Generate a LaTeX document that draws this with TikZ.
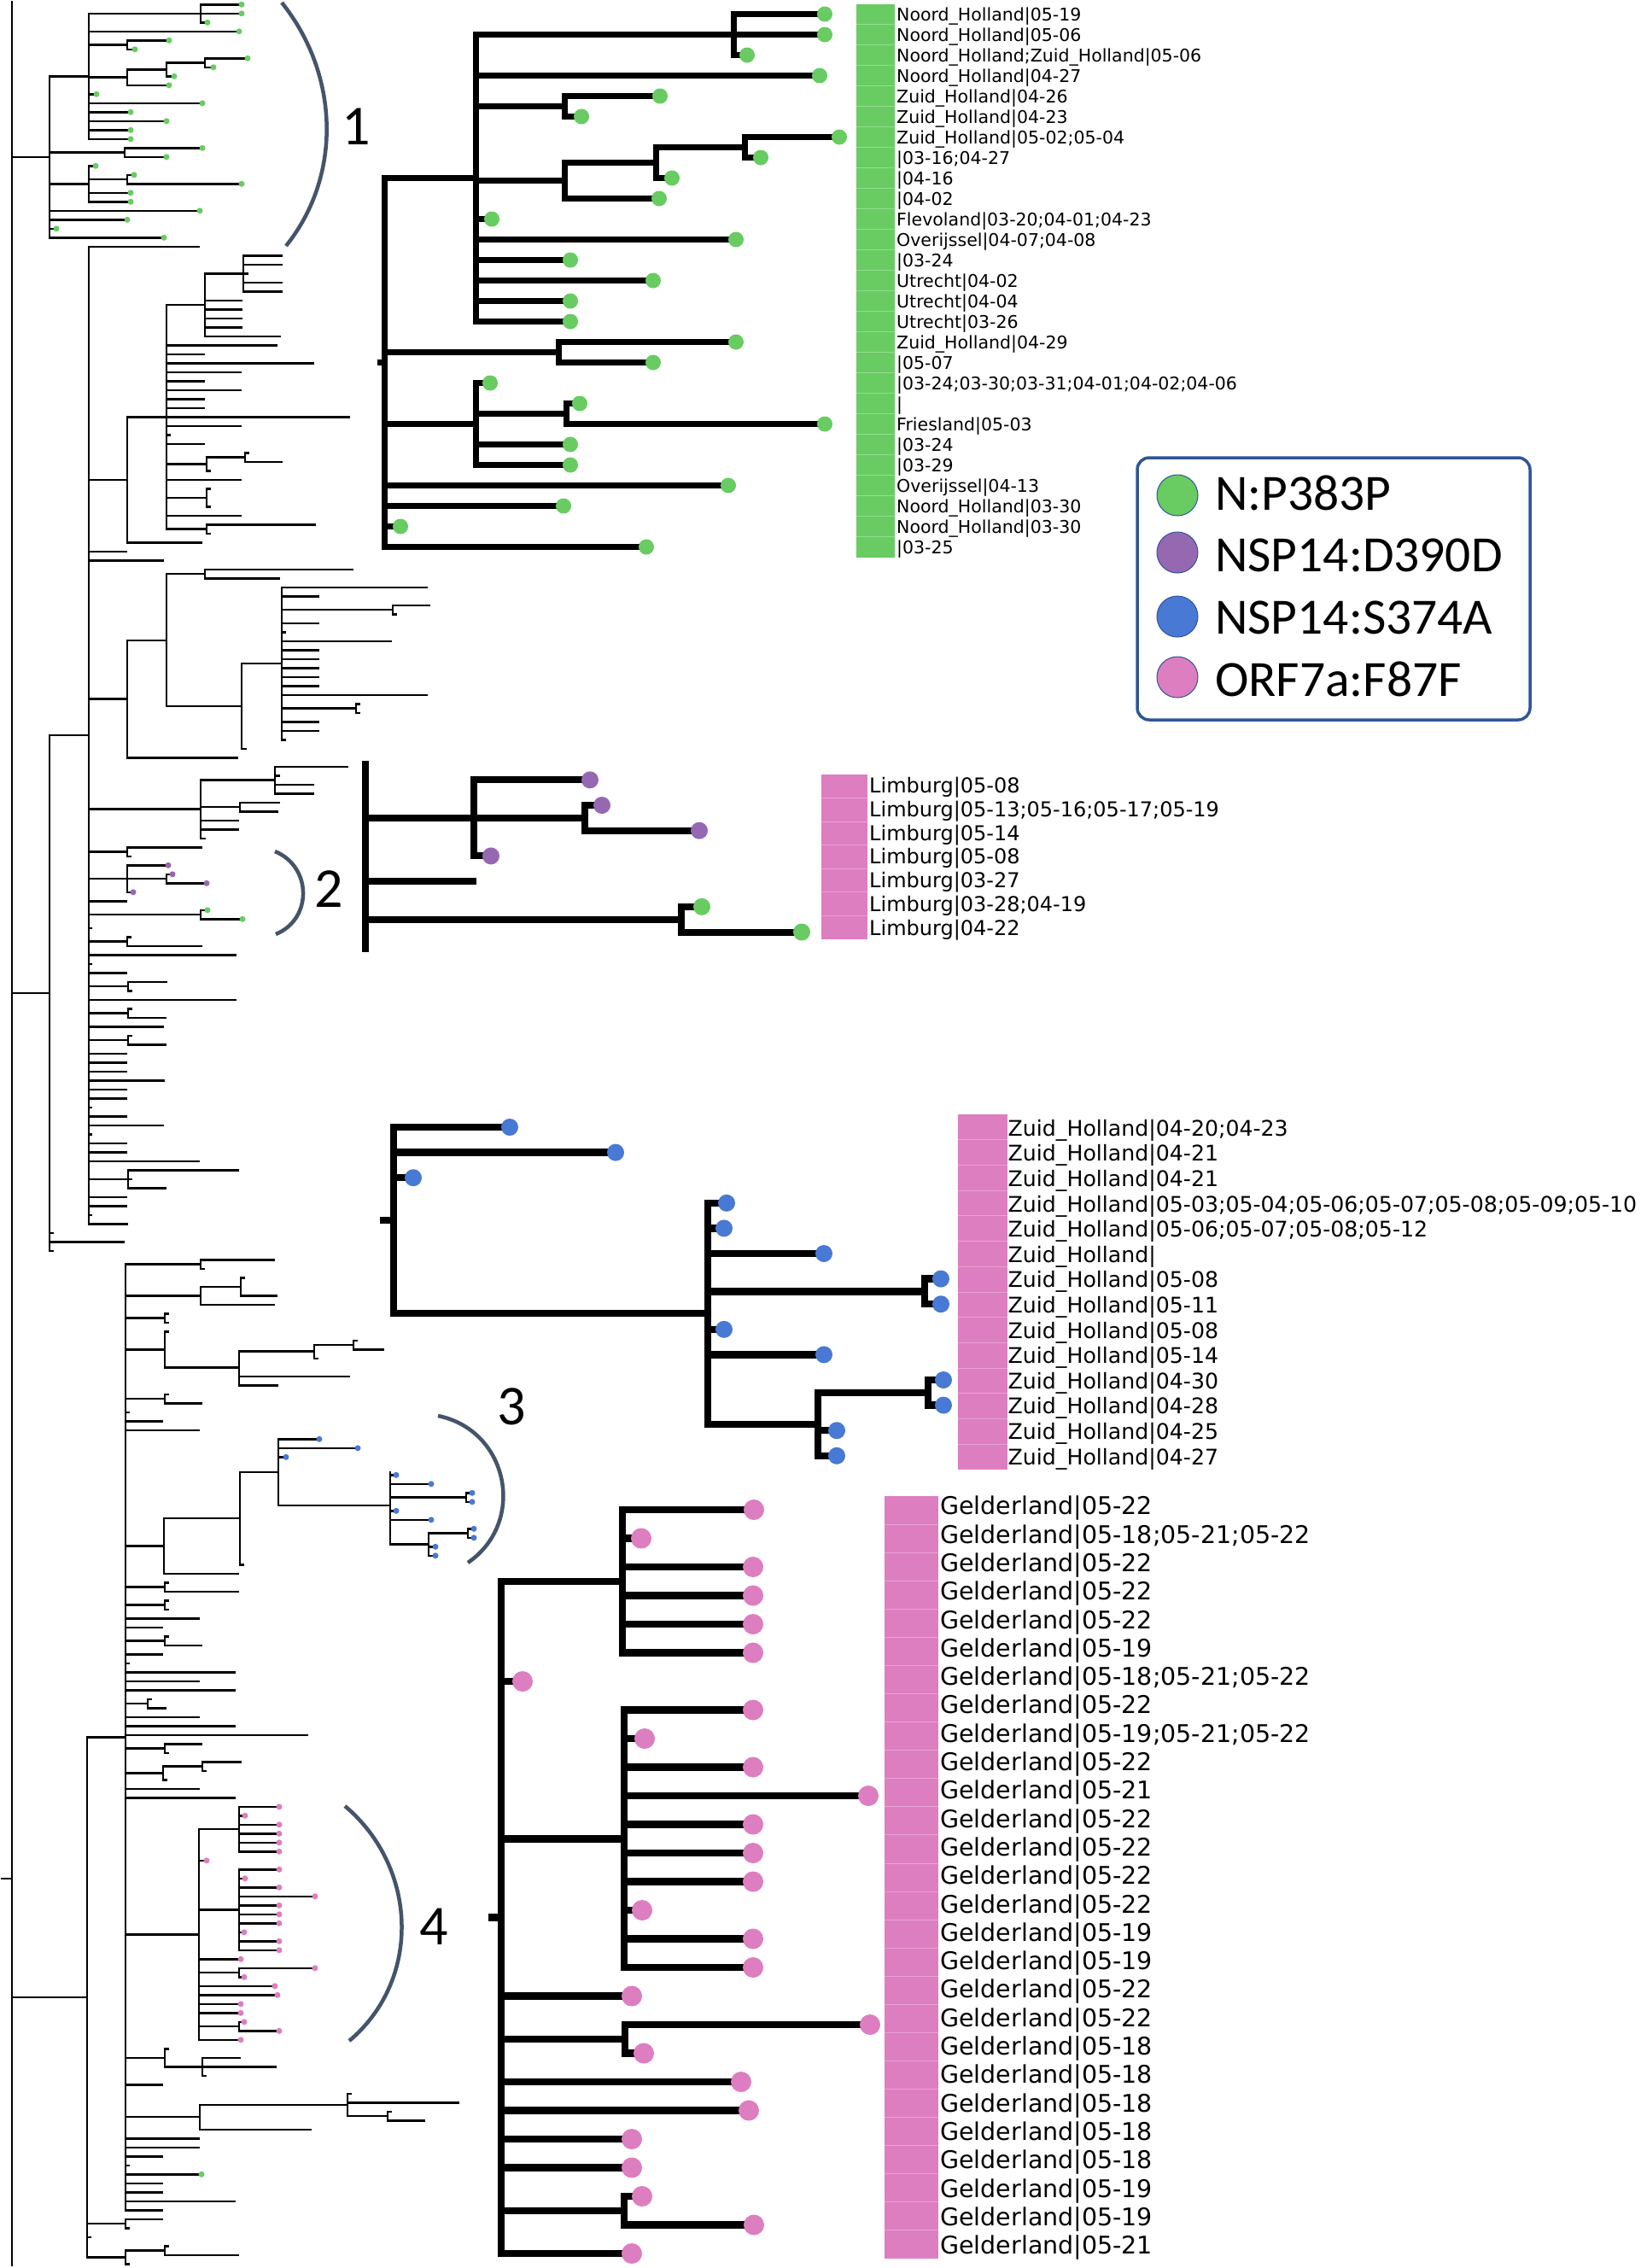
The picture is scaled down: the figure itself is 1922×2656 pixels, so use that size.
\documentclass[tikz,border=0pt]{standalone}
\usepackage{fontspec}
\newfontfamily\labf{DejaVu Sans}
\newfontfamily\calf{Carlito}
\definecolor{gdot}{RGB}{104,204,98}
\definecolor{pdot}{RGB}{150,104,178}
\definecolor{bdot}{RGB}{72,121,212}
\definecolor{kdot}{RGB}{221,126,192}
\definecolor{arcc}{RGB}{68,84,106}
\definecolor{legb}{RGB}{47,85,151}
\newcommand\HL[4]{\foreach \xa/\xb/\rr in {#4}{\draw[#3] (\xa,{#1*\rr+#2}) -- (\xb,{#1*\rr+#2});}}
\newcommand\VL[4]{\foreach \xx/\pp/\qq in {#4}{\draw[#3] (\xx,{#1*\pp+#2}) -- (\xx,{#1*\qq+#2});}}
\newcommand\DT[5]{\foreach \xx/\rr in {#5}{\fill[#4] (\xx,{#1*\rr+#2}) circle (#3pt);}}
\begin{document}
\begin{tikzpicture}[x=1pt,y=-1pt,
 sm/.style={line width=2.5pt,line cap=rect},
 bA/.style={line width=7pt,line cap=rect},
 bB/.style={line width=8pt,line cap=rect},
 bC/.style={line width=8.5pt,line cap=rect},
 brk/.style={draw=arcc,line width=4.5pt},
 sep/.style={draw=white,draw opacity=0.3,line width=0.8pt},
 lab/.style={anchor=base west,inner sep=0pt},
 num/.style={anchor=base,inner sep=0pt,font=\calf\fontsize{66}{70}\selectfont},
]
\useasboundingbox[fill=white] (0,0) rectangle (1922,2656);
% ---------------- small overview tree ----------------
\draw[sm] (14,2) -- (14,2653);
\draw[sm] (2,2200) -- (14,2200);
\HL{10.5}{5.3}{sm}{14/58/17, 58/104/8, 104/235/1, 235/283/0, 235/283/1, 235/243/2, 104/280/3, 104/149/4.5, 149/198/4, 149/158/5, 104/149/8.125, 149/195/7.25, 195/240/6.5, 240/290/6, 240/250/7, 195/204/8, 149/198/9, 104/113/10, 104/237/11, 104/153/12, 104/195/13, 104/153/14, 104/153/15, 58/146/16.5, 146/237/16, 146/195/17, 58/104/20, 104/112/18, 104/149/19.5, 149/157/19, 149/283/20, 104/153/21, 104/153/22, 58/234/23, 58/149/24, 58/66/25, 58/192/26,
14/58/110.25, 58/104/81.5, 104/233/27, 104/149/53, 149/195/46, 195/240/33.5, 240/285/30, 285/330/28, 285/330/29, 285/290/30, 285/330/31, 285/330/32, 240/283/33, 240/283/34, 240/283/35, 240/283/36, 240/328/37, 195/324/38, 195/239/39, 195/367/40, 195/282/41, 195/239/42, 195/282/43, 195/239/44, 195/239/45, 195/409/46, 195/282/47, 195/199/48, 195/239/49, 195/242/51.25, 242/287/50.5, 287/291/50, 287/330/51, 242/246/52, 195/282/53, 195/242/55, 242/246/54, 242/246/56, 195/282/57, 195/242/58.5, 242/369/58, 242/246/59, 149/236/60, 104/148/61, 104/191/62, 104/149/77.45, 149/195/70.9, 195/240/63.5, 240/413/63, 240/327/64, 195/283/78.25, 283/330/73.5, 330/500/65, 330/373/66, 330/460/67.5, 460/503/67, 460/464/68, 330/373/69, 330/334/70, 330/458/71, 330/373/72, 330/373/73, 330/373/74, 330/373/75, 330/373/76, 330/500/77, 330/417/78.5, 417/421/78, 417/421/79, 330/373/80, 330/373/81, 330/334/82, 283/288/83, 149/278/84, 104/235/89.75, 235/322/86.5, 322/407/85, 322/327/86, 322/367/87, 322/367/88, 235/281/89.5, 281/327/89, 281/325/90, 235/279/91, 235/279/92, 235/240/93, 104/149/94.5, 149/236/94, 149/153/95, 104/149/97.5, 149/197/96, 149/195/97.5, 195/202/97, 195/242/98, 149/156/99, 104/148/100, 104/235/101.5, 235/243/101, 235/284/102, 104/107/103, 104/149/104.5, 149/153/104, 149/236/105, 104/276/106, 104/107/107, 104/148/108, 104/150/109.5, 150/195/109, 150/154/110, 104/276/111, 104/150/112.5, 150/154/112, 150/194/113, 104/191/114, 104/150/115.5, 150/154/115, 150/194/116, 104/148/117, 104/148/118, 104/148/119, 104/192/120, 104/148/121, 104/148/122, 104/107/123, 104/148/124, 104/191/125, 104/107/126, 104/148/127, 104/148/128, 104/233/129, 104/150/131, 150/279/130, 150/154/131, 150/194/132, 104/148/133, 104/148/134, 104/107/135, 104/149/136, 58/62/137, 58/145/138, 58/62/139,
14/102/222.25, 102/147/193.25, 147/235/140.5, 235/321/140, 235/239/141, 147/235/144, 235/282/143, 282/286/142, 282/324/144, 235/321/145, 147/193/146.5, 193/197/146, 193/197/147, 147/193/150, 193/197/148, 193/280/152, 280/368/150.2, 368/414/149.5, 414/418/149, 414/449/150, 368/372/151, 280/409/153, 280/325/154, 147/193/155.5, 193/197/155, 193/236/156, 147/151/157, 147/190/158, 147/233/159, 147/192/171.9, 192/281/168.85, 281/326/163.7, 326/374/160, 326/419/161, 326/335/162, 326/457/167.4, 457/464/164, 457/505/165, 457/546/166.5, 546/553/166, 546/553/167, 457/464/168, 457/505/169, 457/502/171.75, 502/548/170.5, 548/555/170, 548/555/171, 502/510/172, 502/510/173, 281/285/174, 192/279/175, 147/193/176.5, 193/197/176, 193/279/177, 147/193/178.5, 193/197/178, 193/197/179, 147/233/180, 147/190/181, 147/193/182.5, 193/197/182, 193/236/183, 147/190/184, 147/151/185, 147/275/186, 147/233/187, 147/275/188, 147/173/189.5, 173/177/189, 173/194/190, 147/233/191, 147/275/192, 147/360/193, 147/193/194.5, 193/236/194, 193/197/195, 147/191/197.25, 191/237/196.5, 237/282/196, 237/241/197, 191/195/198, 147/233/199, 147/275/200, 147/233/215.25, 233/280/203.5, 280/327/201, 280/287/202, 280/327/203, 280/327/204, 280/327/205, 280/327/206, 233/242/207, 233/280/212.5, 280/327/208, 280/287/209, 280/327/210, 280/369/211, 280/327/212, 280/327/213, 280/327/214, 280/286/215, 280/327/216, 280/327/217, 233/282/218, 233/280/219.5, 280/369/219, 280/286/220, 233/322/221, 233/325/222, 233/282/223, 233/282/224, 233/280/225.5, 280/286/225, 280/327/226, 233/282/227, 147/193/229, 193/197/228, 193/237/230, 237/281/229, 237/323/230, 237/241/231, 147/190/232, 147/234/235.6, 234/407/234.25, 407/411/233, 407/537/234, 407/454/235.5, 454/458/235, 454/497/236, 234/364/237, 147/233/238, 147/233/239, 147/190/240, 147/151/241, 147/236/242, 147/190/243, 147/190/244, 147/275/245, 147/190/246, 102/147/247.5, 147/190/247, 147/151/248, 102/106/249, 102/147/251.25, 147/193/250.5, 193/197/250, 193/279/251, 147/151/252}
\VL{10.5}{5.3}{sm}{58/8/26, 104/1/15, 235/0/2, 149/4/5, 149/7.25/9, 195/6.5/8, 240/6/7, 146/16/17, 104/18/22, 149/19/20,
58/81.5/139, 104/27/136, 149/46/60, 195/33.5/58.5, 240/30/37, 285/28/32, 242/50.5/52, 287/50/51, 242/54/56, 242/58/59, 149/70.9/84, 195/63.5/78.25, 240/63/64, 283/73.5/83, 330/65/82, 460/67/68, 417/78/79, 235/86.5/93, 322/85/88, 281/89/90, 149/94/95, 149/96/99, 195/97/98, 235/101/102, 149/104/105, 150/109/110, 150/112/113, 150/115/116, 150/130/132,
102/193.25/251.25, 147/140.5/246, 235/140/141, 235/143/145, 282/142/144, 193/146/147, 193/148/152, 280/150.2/154, 368/149.5/151, 414/149/150, 193/155/156, 192/168.85/175, 281/163.7/174, 326/160/167.4, 457/163.7/171.75, 546/166/167, 502/170.5/173, 548/170/171, 193/176/177, 193/178/179, 193/182/183, 173/189/190, 193/194/195, 191/196.5/198, 237/196/197, 233/203.5/227, 280/201/206, 280/208/217, 280/219/220, 280/225/226, 193/228/230, 237/229/231, 234/234.25/237, 407/233/235.5, 454/235/236, 147/247/248, 147/250.5/252, 193/250/251}
\DT{10.5}{5.3}{3.5}{gdot}{283/0, 283/1, 243/2, 280/3, 198/4, 158/5, 290/6, 250/7, 204/8, 198/9, 113/10, 237/11, 153/12, 195/13, 153/14, 153/15, 237/16, 195/17, 112/18, 157/19, 283/20, 153/21, 153/22, 234/23, 149/24, 66/25, 192/26, 243/101, 284/102, 236/242}
\DT{10.5}{5.3}{3.5}{pdot}{197/96, 202/97, 242/98, 156/99}
\DT{10.5}{5.3}{3.5}{bdot}{374/160, 419/161, 335/162, 464/164, 505/165, 553/166, 553/167, 464/168, 505/169, 555/170, 555/171, 510/172, 510/173}
\DT{10.5}{5.3}{3.5}{kdot}{327/201, 287/202, 327/203, 327/204, 327/205, 327/206, 242/207, 327/208, 287/209, 327/210, 369/211, 327/212, 327/213, 327/214, 286/215, 327/216, 327/217, 282/218, 369/219, 286/220, 322/221, 325/222, 282/223, 282/224, 286/225, 327/226, 282/227}
% ---------------- brackets and numbers ----------------
\draw[brk] (330,3) .. controls (396.8,86.3) and (401.8,204.7) .. (335,288);
\draw[brk] (322,997) .. controls (365.4,1014.8) and (366.4,1076.2) .. (323,1094);
\draw[brk] (513,1658) .. controls (595.5,1674.8) and (617.4,1782.3) .. (548,1830);
\draw[brk] (404,2115) .. controls (489.3,2186.8) and (494.3,2318.2) .. (409,2390);
\node[num] (n1) at (417.5,169) {1};
\node[num] (n2) at (385,1062.7) {2};
\node[num] (n3) at (599,1668.3) {3};
\node[num] (n4) at (508,2277) {4};
% ---------------- subtree 1 ----------------
\HL{24}{16.5}{bA}{445/450/17, 450/557/8, 557/966/1, 859/966/0, 859/875/2, 557/960/3, 557/661/4.5, 661/773/4, 661/681/5, 557/661/8.125, 661/768/7.25, 768/872/6.5, 872/983/6, 872/891/7, 768/787/8, 661/772/9, 557/576/10, 557/862/11, 557/668/12, 557/765/13, 557/668/14, 557/668/15, 450/654/16.5, 654/862/16, 654/765/17, 450/557/20, 557/574/18, 557/663/19.5, 663/679/19, 663/966/20, 557/668/21, 557/668/22, 450/853/23, 450/660/24, 450/469/25, 450/757/26}
\VL{24}{16.5}{bA}{450/8/26, 557/1/15, 859/0/2, 661/4/5, 661/7.25/9, 768/6.5/8, 872/6/7, 654/16/17, 557/18/22, 663/19/20}
\DT{24}{16.5}{9}{gdot}{966/0, 966/1, 875/2, 960/3, 773/4, 681/5, 983/6, 891/7, 787/8, 772/9, 576/10, 862/11, 668/12, 765/13, 668/14, 668/15, 862/16, 765/17, 574/18, 679/19, 966/20, 668/21, 668/22, 853/23, 660/24, 469/25, 757/26}
\fill[gdot] (1003,4.5) rectangle (1048,652.5);
\foreach \k in {1,...,26} {\draw[sep] (1003,{4.5+24*\k}) -- (1048,{4.5+24*\k});}
\foreach \tx [count=\k from 0] in {Noord\_Holland|05-19, Noord\_Holland|05-06, Noord\_Holland;Zuid\_Holland|05-06, Noord\_Holland|04-27, Zuid\_Holland|04-26, Zuid\_Holland|04-23, Zuid\_Holland|05-02;05-04, |03-16;04-27, |04-16, |04-02, Flevoland|03-20;04-01;04-23, Overijssel|04-07;04-08, |03-24, Utrecht|04-02, Utrecht|04-04, Utrecht|03-26, Zuid\_Holland|04-29, |05-07, |03-24;03-30;03-31;04-01;04-02;04-06, |, Friesland|05-03, |03-24, |03-29, Overijssel|04-13, Noord\_Holland|03-30, Noord\_Holland|03-30, |03-25}
 {\node[lab,font=\labf\fontsize{20.5}{24}\selectfont] (a\k) at (1050,{24+24*\k}) {\tx};}
% ---------------- subtree 2 ----------------
\draw[bB] (428,895) -- (428,1111);
\HL{29.7}{913.3}{bB}{428/555/1.5, 555/691/0, 555/685/1.5, 685/705/1, 685/819/2, 555/575/3, 428/554/4, 428/798/5.5, 798/822/5, 798/939/6}
\VL{29.7}{913.3}{bB}{555/0/3, 685/1/2, 798/5/6}
\DT{29.7}{913.3}{10}{pdot}{691/0, 705/1, 819/2, 575/3}
\DT{29.7}{913.3}{10}{gdot}{822/5, 939/6}
\fill[kdot] (962,907) rectangle (1016,1100);
\foreach \k in {1,...,6} {\draw[sep] (962,{907+27.57*\k}) -- (1016,{907+27.57*\k});}
\foreach \tx [count=\k from 0] in {Limburg|05-08, Limburg|05-13;05-16;05-17;05-19, Limburg|05-14, Limburg|05-08, Limburg|03-27, Limburg|03-28;04-19, Limburg|04-22}
 {\node[lab,font=\labf\fontsize{24}{28}\selectfont] (b\k) at (1018,{928.8+27.7*\k}) {\tx};}
% ---------------- subtree 3 ----------------
\HL{29.6}{1320}{bC}{449/461/3.68, 461/597/0, 461/721/1, 461/484/2, 461/829/7.36, 829/851/3, 829/848/4, 829/965/5, 829/1083/6.5, 1083/1102/6, 1083/1102/7, 829/848/8, 829/965/9, 829/958/11.75, 958/1087/10.5, 1087/1105/10, 1087/1105/11, 958/980/12, 958/980/13}
\VL{29.6}{1320}{bC}{461/0/7.36, 829/3/11.75, 1083/6/7, 958/10.5/13, 1087/10/11}
\DT{29.6}{1320}{10}{bdot}{597/0, 721/1, 484/2, 851/3, 848/4, 965/5, 1102/6, 1102/7, 848/8, 965/9, 1105/10, 1105/11, 980/12, 980/13}
\fill[kdot] (1122,1305) rectangle (1180,1721);
\foreach \k in {1,...,13} {\draw[sep] (1122,{1305+29.71*\k}) -- (1180,{1305+29.71*\k});}
\foreach \tx [count=\k from 0] in {Zuid\_Holland|04-20;04-23, Zuid\_Holland|04-21, Zuid\_Holland|04-21, Zuid\_Holland|05-03;05-04;05-06;05-07;05-08;05-09;05-10, Zuid\_Holland|05-06;05-07;05-08;05-12, Zuid\_Holland|, Zuid\_Holland|05-08, Zuid\_Holland|05-11, Zuid\_Holland|05-08, Zuid\_Holland|05-14, Zuid\_Holland|04-30, Zuid\_Holland|04-28, Zuid\_Holland|04-25, Zuid\_Holland|04-27}
 {\node[lab,font=\labf\fontsize{25.2}{29}\selectfont] (c\k) at (1180.5,{1330.2+29.6*\k}) {\tx};}
% ---------------- subtree 4 ----------------
\HL{33.5}{1768}{bC}{576/587/14.25, 587/729/2.5, 729/883/0, 729/751/1, 729/882/2, 729/882/3, 729/882/4, 729/882/5, 587/612/6, 587/731/11.5, 731/882/7, 731/755/8, 731/882/9, 731/1017/10, 731/882/11, 731/882/12, 731/882/13, 731/752/14, 731/882/15, 731/882/16, 587/740/17, 587/732/18.5, 732/1019/18, 732/754/19, 587/868/20, 587/877/21, 587/740/22, 587/740/23, 587/731/24.5, 731/752/24, 731/883/25, 587/740/26}
\VL{33.5}{1768}{bC}{587/2.5/26, 729/0/5, 731/7/16, 732/18/19, 731/24/25}
\DT{33.5}{1768}{12}{kdot}{883/0, 751/1, 882/2, 882/3, 882/4, 882/5, 612/6, 882/7, 755/8, 882/9, 1017/10, 882/11, 882/12, 882/13, 752/14, 882/15, 882/16, 740/17, 1019/18, 754/19, 868/20, 877/21, 740/22, 740/23, 752/24, 883/25, 740/26}
\fill[kdot] (1036,1752) rectangle (1099,2645);
\foreach \k in {1,...,26} {\draw[sep] (1036,{1752+33.07*\k}) -- (1099,{1752+33.07*\k});}
\foreach \tx [count=\k from 0] in {Gelderland|05-22, Gelderland|05-18;05-21;05-22, Gelderland|05-22, Gelderland|05-22, Gelderland|05-22, Gelderland|05-19, Gelderland|05-18;05-21;05-22, Gelderland|05-22, Gelderland|05-19;05-21;05-22, Gelderland|05-22, Gelderland|05-21, Gelderland|05-22, Gelderland|05-22, Gelderland|05-22, Gelderland|05-22, Gelderland|05-19, Gelderland|05-19, Gelderland|05-22, Gelderland|05-22, Gelderland|05-18, Gelderland|05-18, Gelderland|05-18, Gelderland|05-18, Gelderland|05-18, Gelderland|05-19, Gelderland|05-19, Gelderland|05-21}
 {\node[lab,font=\labf\fontsize{28.5}{33}\selectfont] (d\k) at (1101,{1773.8+33.3*\k}) {\tx};}
% ---------------- legend ----------------
\draw[legb,line width=3.5pt,rounded corners=14pt,fill=white] (1332,536) rectangle (1792,843);
\foreach \cc/\tx/\yy/\bb [count=\i] in {gdot/N:P383P/580/597.3, pdot/NSP14:D390D/647/669.3, bdot/NSP14:S374A/722/742.7, kdot/ORF7a:F87F/793/815}
 {\filldraw[fill=\cc,draw=legb,line width=1pt] (1379,\yy) circle (24pt);
  \node[lab,font=\calf\fontsize{59.5}{64}\selectfont] (leg\i) at (1423,\bb) {\tx};}
\end{tikzpicture}
\end{document}
